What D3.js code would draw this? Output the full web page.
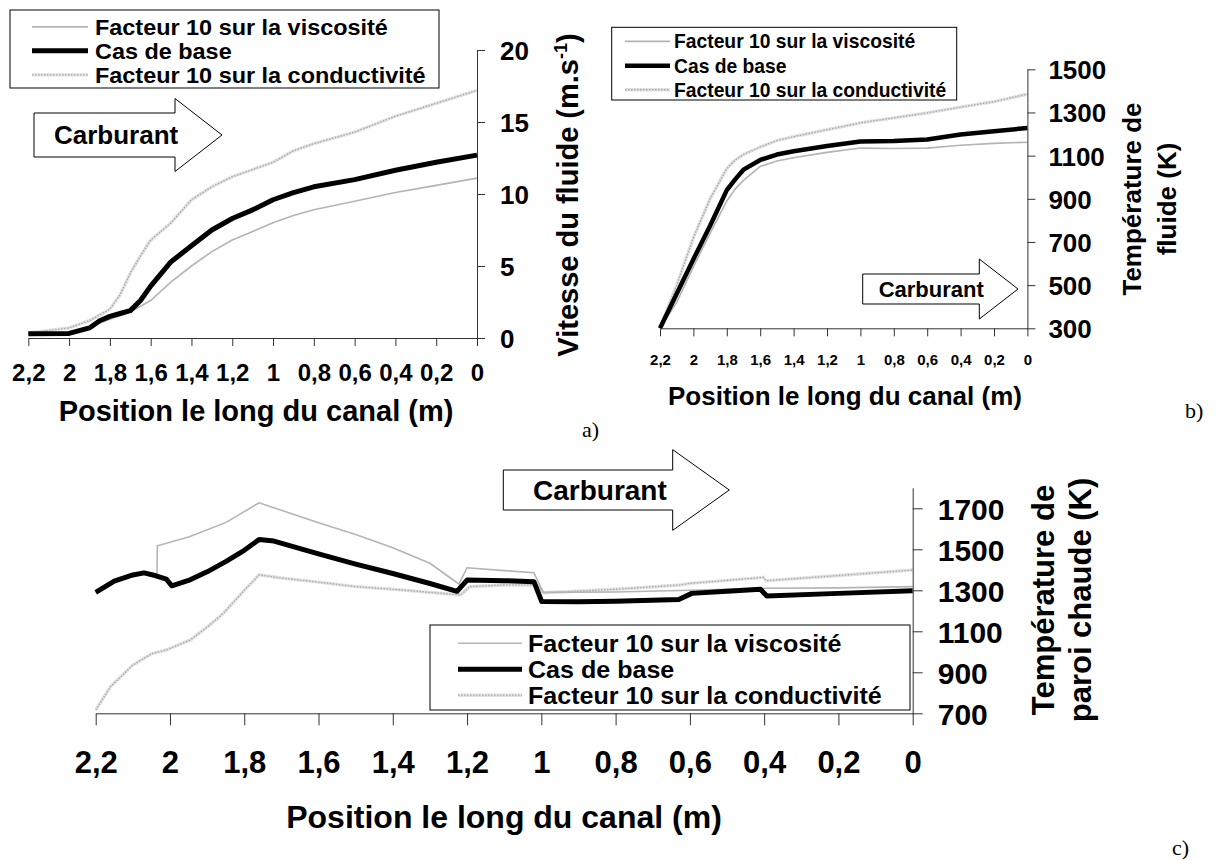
<!DOCTYPE html>
<html><head><meta charset="utf-8">
<script src="https://cdn.jsdelivr.net/npm/d3@7"></script>
<style>
html,body{margin:0;padding:0;background:#fff;}
svg text{font-family:"Liberation Sans",Arial,sans-serif;font-weight:bold;fill:#000;}
</style></head>
<body><svg id="c" width="1216" height="860"></svg>
<script>
// ---------- data ----------
const seriesNames = ["Facteur 10 sur la viscosité", "Cas de base", "Facteur 10 sur la conductivité"];
const posTicks = [2.2, 2, 1.8, 1.6, 1.4, 1.2, 1, 0.8, 0.6, 0.4, 0.2, 0];
const flowLabel = "Carburant";
const xTitle = "Position le long du canal (m)";

// a) fluid velocity (m/s)
const aPos  = [2.2, 2.0, 1.9, 1.85, 1.8, 1.75, 1.7, 1.65, 1.6, 1.5, 1.4, 1.3, 1.2, 1.1, 1.0, 0.9, 0.8, 0.6, 0.4, 0.2, 0];
const aBase = [0.3, 0.32, 0.7, 1.2, 1.5, 1.7, 1.9, 2.6, 3.6, 5.3, 6.4, 7.5, 8.3, 8.9, 9.6, 10.1, 10.5, 11.0, 11.65, 12.2, 12.7];
const aVisc = [0.3, 0.35, 0.8, 1.05, 1.3, 1.55, 1.8, 2.2, 2.6, 3.9, 5.0, 6.0, 6.8, 7.4, 8.0, 8.5, 8.9, 9.5, 10.1, 10.6, 11.1];
const aCond = [0.35, 0.7, 1.2, 1.6, 2.0, 3.0, 4.5, 5.7, 6.8, 8.0, 9.6, 10.5, 11.2, 11.7, 12.2, 13.0, 13.5, 14.3, 15.4, 16.3, 17.2];
const aYTicks = [0, 5, 10, 15, 20];

// b) fluid temperature (K)
const bPos  = [2.2, 2.1, 2.0, 1.9, 1.8, 1.75, 1.7, 1.6, 1.5, 1.4, 1.2, 1.0, 0.8, 0.6, 0.4, 0.2, 0];
const bBase = [300, 460, 620, 775, 940, 990, 1035, 1080, 1105, 1120, 1145, 1165, 1168, 1175, 1198, 1213, 1228];
const bVisc = [300, 420, 585, 740, 890, 945, 985, 1050, 1075, 1090, 1115, 1135, 1133, 1135, 1148, 1157, 1162];
const bCond = [300, 500, 720, 900, 1040, 1080, 1105, 1140, 1170, 1188, 1220, 1252, 1275, 1298, 1325, 1350, 1385];
const bYTicks = [300, 500, 700, 900, 1100, 1300, 1500];

// c) hot wall temperature (K)
const cBasePos = [2.2, 2.15, 2.1, 2.07, 2.04, 2.01, 1.995, 1.95, 1.9, 1.85, 1.8, 1.76, 1.72, 1.6, 1.5, 1.4, 1.3, 1.227, 1.2, 1.1, 1.02, 0.999, 0.9, 0.8, 0.63, 0.595, 0.5, 0.41, 0.393, 0.2, 0];
const cBase    = [1290, 1345, 1375, 1385, 1372, 1355, 1322, 1348, 1390, 1440, 1495, 1548, 1540, 1478, 1428, 1382, 1333, 1295, 1350, 1347, 1342, 1245, 1244, 1246, 1255, 1285, 1295, 1305, 1272, 1285, 1298];
const cViscPos = [2.2, 2.15, 2.1, 2.07, 2.035, 2.034, 1.95, 1.85, 1.76, 1.7, 1.6, 1.5, 1.4, 1.3, 1.222, 1.2, 1.1, 1.02, 0.995, 0.8, 0.6, 0.4, 0.2, 0];
const cVisc    = [1290, 1345, 1375, 1385, 1370, 1517, 1560, 1630, 1727, 1690, 1630, 1572, 1508, 1432, 1331, 1410, 1396, 1386, 1290, 1292, 1300, 1310, 1312, 1318];
const cCondPos = [2.2, 2.16, 2.1, 2.05, 2.01, 1.945, 1.9, 1.856, 1.8, 1.76, 1.7, 1.6, 1.5, 1.4, 1.3, 1.218, 1.192, 1.1, 1.01, 0.995, 0.8, 0.626, 0.6, 0.402, 0.395, 0.2, 0];
const cCond    = [716, 830, 935, 990, 1009, 1058, 1120, 1188, 1300, 1375, 1360, 1340, 1318, 1305, 1290, 1277, 1318, 1326, 1326, 1288, 1305, 1326, 1334, 1363, 1347, 1372, 1399];
const cYTicks = [700, 900, 1100, 1300, 1500, 1700];

// ---------- drawing ----------
const svg = d3.select("#c");
const fmt = d => String(d).replace(".", ",");

function drawSeries(g, x, y, pos, vals, kind, baseW) {
  const line = d3.line().x((d, i) => x(pos[i])).y(d => y(d));
  if (kind === "visc") {
    g.append("path").attr("d", line(vals)).attr("fill", "none").attr("stroke", "#b4b4b4").attr("stroke-width", 1.6);
  } else if (kind === "cond") {
    g.append("path").attr("d", line(vals)).attr("fill", "none").attr("stroke", "#e2e2e2").attr("stroke-width", 3.4);
    g.append("path").attr("d", line(vals)).attr("fill", "none").attr("stroke", "#a8a8a8").attr("stroke-width", 1.3).attr("stroke-dasharray", "1.5,1.5");
  } else {
    g.append("path").attr("d", line(vals)).attr("fill", "none").attr("stroke", "#000").attr("stroke-width", baseW).attr("stroke-linejoin", "round");
  }
}

function legend(g, x0, y0, w, h, sx0, sx1, tx, rows, fs, stretch, baseW) {
  g.append("rect").attr("x", x0).attr("y", y0).attr("width", w).attr("height", h).attr("fill", "#fff").attr("stroke", "#000").attr("stroke-width", 1);
  const kinds = ["visc", "base", "cond"];
  rows.forEach((r, i) => {
    const ly = r - fs * 0.36;
    const sx = d3.scaleLinear().domain([0, 1]).range([sx0, sx1]);
    const sy = d3.scaleLinear().domain([0, 1]).range([ly, ly]);
    drawSeries(g, sx, sy, [0, 1], [0, 1], kinds[i], baseW);
    g.append("text").attr("transform", `translate(${tx},${r}) scale(${stretch},1)`).attr("font-size", fs).text(seriesNames[i]);
  });
}

function arrow(g, x0, y0, bw, bh, hw, hh, fs, tx) {
  const cy = y0 + bh / 2;
  const pts = [[x0, y0], [x0 + bw, y0], [x0 + bw, cy - hh / 2], [x0 + bw + hw, cy], [x0 + bw, cy + hh / 2], [x0 + bw, y0 + bh], [x0, y0 + bh]];
  g.append("polygon").attr("points", pts.map(p => p.join(",")).join(" ")).attr("fill", "#fff").attr("stroke", "#000").attr("stroke-width", 1);
  g.append("text").attr("x", tx).attr("y", cy + fs * 0.36).attr("font-size", fs).text(flowLabel);
}

function axes(g, x, y, yTicks, xTick, yTick, xfs, yfs, xLabY, yLabX) {
  const ax = g.append("g").attr("transform", `translate(0,${y.range()[0]})`)
    .call(d3.axisBottom(x).tickValues(posTicks).tickFormat(fmt).tickSize(xTick).tickSizeOuter(0));
  ax.selectAll("text").attr("y", xLabY).attr("dy", 0).attr("font-size", xfs).style("font-family", "Liberation Sans, Arial, sans-serif").style("font-weight", "bold");
  const ay = g.append("g").attr("transform", `translate(${x.range()[1]},0)`)
    .call(d3.axisRight(y).tickValues(yTicks).tickFormat(d3.format("d")).tickSize(yTick).tickSizeOuter(0));
  ay.selectAll("text").attr("x", yLabX).attr("dy", "0.36em").attr("font-size", yfs).style("font-family", "Liberation Sans, Arial, sans-serif").style("font-weight", "bold");
  g.selectAll(".domain, .tick line").attr("stroke", "#333").attr("stroke-width", 1);
}

// ----- panel a -----
{
  const g = svg.append("g");
  const x = d3.scaleLinear().domain([2.2, 0]).range([28.3, 477]);
  const y = d3.scaleLinear().domain([0, 20]).range([338, 50]);
  drawSeries(g, x, y, aPos, aCond, "cond");
  drawSeries(g, x, y, aPos, aVisc, "visc");
  drawSeries(g, x, y, aPos, aBase, "base", 5);
  axes(g, x, y, aYTicks, 8, 8, 24, 26, 43, 23);
  legend(g, 10, 10, 429, 78, 32, 88, 95, [34.5, 58.5, 82.5], 21.3, 1.1, 5);
  arrow(g, 34, 113, 141, 44, 47, 73, 26, 54);
  const t = g.append("text").attr("transform", "translate(578,195) rotate(-90)").attr("text-anchor", "middle").attr("font-size", 29);
  t.append("tspan").text("Vitesse du fluide (m.s");
  t.append("tspan").attr("font-size", 18).attr("dy", -11).text("-1");
  t.append("tspan").attr("dy", 11).text(")");
  g.append("text").attr("x", 256).attr("y", 421).attr("text-anchor", "middle").attr("font-size", 29).text(xTitle);
  g.append("text").attr("x", 582).attr("y", 437).attr("font-size", 22).style("font-family", "Liberation Serif, Times New Roman, serif").style("font-weight", "normal").text("a)");
}

// ----- panel b -----
{
  const g = svg.append("g");
  const x = d3.scaleLinear().domain([2.2, 0]).range([660, 1027.4]);
  const y = d3.scaleLinear().domain([300, 1500]).range([328.3, 69.3]);
  drawSeries(g, x, y, bPos, bCond, "cond");
  drawSeries(g, x, y, bPos, bVisc, "visc");
  drawSeries(g, x, y, bPos, bBase, "base", 4.5);
  axes(g, x, y, bYTicks, 8, 8, 15, 26, 37, 21);
  legend(g, 611.7, 27.3, 345, 72.7, 625, 670, 674, [48.3, 72.7, 96.7], 19.3, 1, 4.5);
  arrow(g, 862.7, 274, 116.6, 30, 38.7, 60, 22, 878.7);
  const t = g.append("text").attr("transform", "translate(1141,199) rotate(-90)").attr("text-anchor", "middle").attr("font-size", 26);
  t.append("tspan").attr("x", 0).attr("y", 0).text("Température de");
  t.append("tspan").attr("x", 0).attr("y", 35).text("fluide (K)");
  g.append("text").attr("x", 845).attr("y", 405).attr("text-anchor", "middle").attr("font-size", 26).text(xTitle);
  g.append("text").attr("x", 1185).attr("y", 418).attr("font-size", 22).style("font-family", "Liberation Serif, Times New Roman, serif").style("font-weight", "normal").text("b)");
}

// ----- panel c -----
{
  const g = svg.append("g");
  const x = d3.scaleLinear().domain([2.2, 0]).range([95.7, 912.7]);
  const y = d3.scaleLinear().domain([700, 1800]).range([713.3, 487.8]);
  drawSeries(g, x, y, cCondPos, cCond, "cond");
  drawSeries(g, x, y, cViscPos, cVisc, "visc");
  drawSeries(g, x, y, cBasePos, cBase, "base", 5);
  axes(g, x, y, cYTicks, 12, 10, 31, 30, 60, 25);
  legend(g, 430, 625, 480, 85, 458, 522, 528, [651.5, 677.5, 703.5], 23, 1.09, 5);
  arrow(g, 503.3, 470, 169.4, 40, 56.6, 80.7, 28, 533);
  const t = g.append("text").attr("transform", "translate(1054,600) rotate(-90)").attr("text-anchor", "middle").attr("font-size", 31);
  t.append("tspan").attr("x", 0).attr("y", 0).text("Température de");
  t.append("tspan").attr("x", 0).attr("y", 37).text("paroi chaude (K)");
  g.append("text").attr("x", 504).attr("y", 828).attr("text-anchor", "middle").attr("font-size", 32).text(xTitle);
  g.append("text").attr("x", 1172).attr("y", 855).attr("font-size", 22).style("font-family", "Liberation Serif, Times New Roman, serif").style("font-weight", "normal").text("c)");
}
</script></body></html>
